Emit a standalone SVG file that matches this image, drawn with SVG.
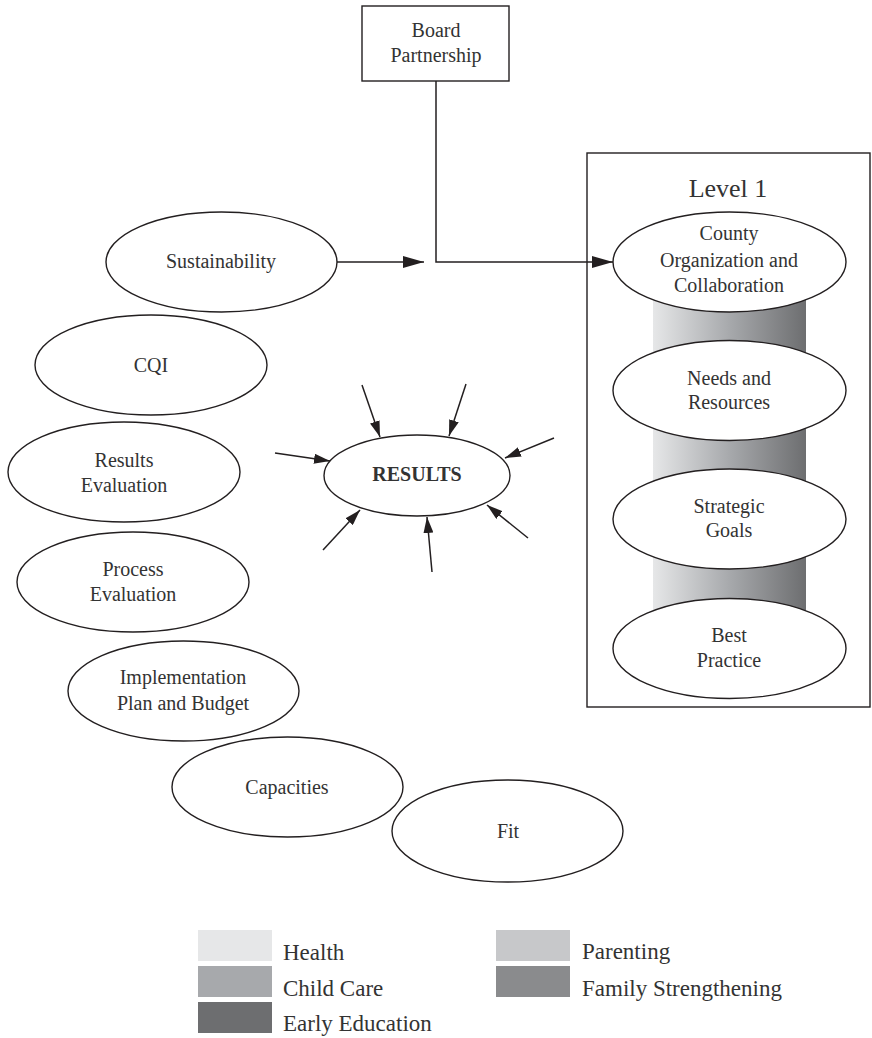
<svg xmlns="http://www.w3.org/2000/svg" width="872" height="1038" viewBox="0 0 872 1038">
  <style>
    .shape { fill: #ffffff; stroke: #231f20; stroke-width: 1.4; }
    .frame { fill: none; stroke: #231f20; stroke-width: 1.4; }
    .lbl { font-family: "Liberation Serif", "Times New Roman", serif; font-size: 20px; fill: #333333; text-anchor: middle; }
    .bold { font-weight: bold; }
    .big { font-size: 26px; }
    .leg { font-family: "Liberation Serif", "Times New Roman", serif; font-size: 23px; fill: #333333; }
    .conn { fill: none; stroke: #231f20; stroke-width: 1.5; }
  </style>
  <defs>
    <linearGradient id="band" x1="0" y1="0" x2="1" y2="0">
      <stop offset="0" stop-color="#e6e7e8"/>
      <stop offset="0.5" stop-color="#a7a9ac"/>
      <stop offset="1" stop-color="#6d6e70"/>
    </linearGradient>
    <marker id="headL" markerUnits="userSpaceOnUse" markerWidth="22" markerHeight="12" refX="21" refY="6" orient="auto">
      <path d="M0,0 L21,6 L0,12 z" fill="#231f20"/>
    </marker>
    <marker id="headS" markerUnits="userSpaceOnUse" markerWidth="17" markerHeight="10" refX="16" refY="5" orient="auto">
      <path d="M0,0 L16,5 L0,10 z" fill="#231f20"/>
    </marker>
  </defs>

  <!-- Level 1 container -->
  <g id="level1">
    <rect class="frame" x="587" y="153" width="283" height="554"/>
    <text class="lbl big" x="728" y="197">Level 1</text>
    <rect x="653" y="290" width="153" height="330" fill="url(#band)"/>
  </g>

  <g id="board">
    <rect class="shape" x="362" y="6" width="147" height="75"/>
    <text class="lbl" x="436" y="37">Board</text>
    <text class="lbl" x="436" y="62">Partnership</text>
  </g>

  <g id="county">
    <ellipse class="shape" cx="729.5" cy="262" rx="116.5" ry="50"/>
    <text class="lbl" x="729" y="240">County</text>
    <text class="lbl" x="729" y="267">Organization and</text>
    <text class="lbl" x="729" y="292">Collaboration</text>
  </g>
  <g id="needs">
    <ellipse class="shape" cx="729.5" cy="390.5" rx="116.5" ry="50"/>
    <text class="lbl" x="729" y="385">Needs and</text>
    <text class="lbl" x="729" y="409">Resources</text>
  </g>
  <g id="strategic">
    <ellipse class="shape" cx="729.5" cy="519" rx="116.5" ry="50"/>
    <text class="lbl" x="729" y="513">Strategic</text>
    <text class="lbl" x="729" y="537">Goals</text>
  </g>
  <g id="best">
    <ellipse class="shape" cx="729.5" cy="648.5" rx="116.5" ry="50"/>
    <text class="lbl" x="729" y="642">Best</text>
    <text class="lbl" x="729" y="667">Practice</text>
  </g>

  <g id="sustainability">
    <ellipse class="shape" cx="221.5" cy="262" rx="115.5" ry="50"/>
    <text class="lbl" x="221" y="268">Sustainability</text>
  </g>
  <g id="cqi">
    <ellipse class="shape" cx="151" cy="365" rx="116" ry="50"/>
    <text class="lbl" x="151" y="372">CQI</text>
  </g>
  <g id="results-eval">
    <ellipse class="shape" cx="124" cy="472" rx="116" ry="50"/>
    <text class="lbl" x="124" y="467">Results</text>
    <text class="lbl" x="124" y="492">Evaluation</text>
  </g>
  <g id="process-eval">
    <ellipse class="shape" cx="133" cy="582" rx="116" ry="50"/>
    <text class="lbl" x="133" y="576">Process</text>
    <text class="lbl" x="133" y="601">Evaluation</text>
  </g>
  <g id="implementation">
    <ellipse class="shape" cx="183.5" cy="691" rx="115.5" ry="50"/>
    <text class="lbl" x="183" y="684">Implementation</text>
    <text class="lbl" x="183" y="710">Plan and Budget</text>
  </g>
  <g id="capacities">
    <ellipse class="shape" cx="287.5" cy="787" rx="115.5" ry="50"/>
    <text class="lbl" x="287" y="794">Capacities</text>
  </g>
  <g id="fit">
    <ellipse class="shape" cx="507.5" cy="831" rx="115.5" ry="51"/>
    <text class="lbl" x="508" y="838">Fit</text>
  </g>

  <g id="results">
    <ellipse class="shape" cx="417" cy="475.5" rx="93" ry="40.5"/>
    <text class="lbl bold" x="417" y="481">RESULTS</text>
  </g>

  <g id="connectors">
    <path class="conn" d="M337,262 L424,262" marker-end="url(#headL)"/>
    <path class="conn" d="M436,81 L436,262 L613,262" marker-end="url(#headL)"/>
    <path class="conn" d="M362,385 L380,437" marker-end="url(#headS)"/>
    <path class="conn" d="M466,384 L449,436" marker-end="url(#headS)"/>
    <path class="conn" d="M554,438 L505,458" marker-end="url(#headS)"/>
    <path class="conn" d="M275,453 L330,461" marker-end="url(#headS)"/>
    <path class="conn" d="M323,550 L360,510" marker-end="url(#headS)"/>
    <path class="conn" d="M432,572 L427,517" marker-end="url(#headS)"/>
    <path class="conn" d="M528,538 L487,505" marker-end="url(#headS)"/>
  </g>

  <g id="legend">
    <rect x="198" y="930" width="74" height="31" fill="#e6e7e8"/>
    <text class="leg" x="283" y="960">Health</text>
    <rect x="198" y="966" width="74" height="31" fill="#a7a9ac"/>
    <text class="leg" x="283" y="996">Child Care</text>
    <rect x="198" y="1002" width="74" height="31" fill="#6d6e70"/>
    <text class="leg" x="283" y="1031">Early Education</text>
    <rect x="496" y="930" width="74" height="31" fill="#c7c8ca"/>
    <text class="leg" x="582" y="959">Parenting</text>
    <rect x="496" y="966" width="74" height="31" fill="#8a8b8d"/>
    <text class="leg" x="582" y="996">Family Strengthening</text>
  </g>
</svg>
